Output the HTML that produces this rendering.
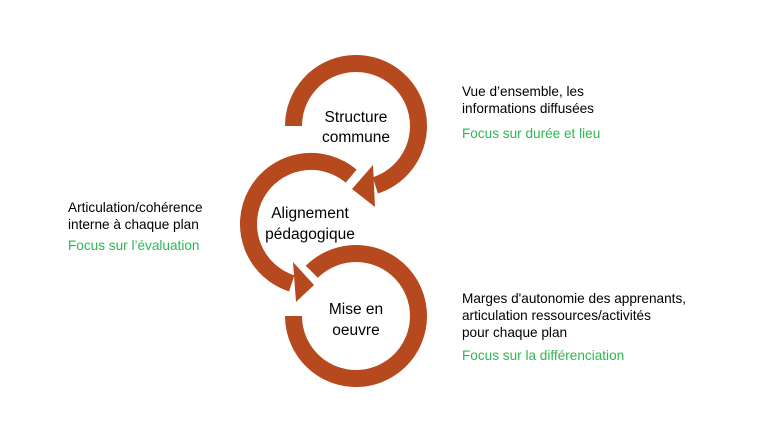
<!DOCTYPE html>
<html><head><meta charset="utf-8"><style>
html,body{margin:0;padding:0;background:#fff;}
svg{display:block;}
text{font-family:"Liberation Sans",sans-serif;}
</style></head><body>
<svg width="766" height="431" viewBox="0 0 766 431" xmlns="http://www.w3.org/2000/svg">
<g fill="none" stroke="#B7491E" stroke-width="17">
<path d="M293.5,126 A62.5,62.5 0 1 1 375.3,185.4"/>
<path d="M351.2,176.1 A62.5,62.5 0 1 0 291.7,283.4"/>
<path d="M311.8,271.8 A62.5,62.5 0 1 1 293.5,316"/>
</g>
<g fill="#B7491E">
<polygon points="373,165 375,207 352,189"/>
<polygon points="293,262 296,302 314,285"/>
</g>
<g font-size="15.5" fill="#000" text-anchor="middle">
<text x="356" y="122">Structure</text>
<text x="356" y="142">commune</text>
<text x="310" y="218">Alignement</text>
<text x="310" y="239">pédagogique</text>
<text x="356" y="314">Mise en</text>
<text x="356" y="335">oeuvre</text>
</g>
<g font-size="13.6" fill="#000">
<text x="462" y="96">Vue d’ensemble, les</text>
<text x="462" y="113">informations diffusées</text>
<text x="462" y="138" fill="#2DB84F">Focus sur durée et lieu</text>
<text x="68" y="212">Articulation/cohérence</text>
<text x="68" y="229">interne à chaque plan</text>
<text x="68" y="250" fill="#2DB84F">Focus sur l’évaluation</text>
<text x="462" y="303">Marges d'autonomie des apprenants,</text>
<text x="462" y="320">articulation ressources/activités</text>
<text x="462" y="337">pour chaque plan</text>
<text x="462" y="360" fill="#2DB84F">Focus sur la différenciation</text>
</g>
</svg>
</body></html>
